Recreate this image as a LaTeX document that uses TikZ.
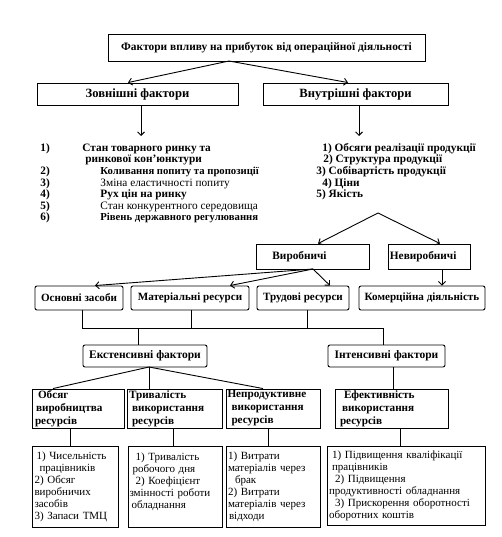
\documentclass[tikz,border=0pt]{standalone}
\usepackage{fontspec}
\setmainfont{Liberation Serif}
\usetikzlibrary{arrows.meta}
\begin{document}
\begin{tikzpicture}[x=1pt,y=-1pt,
  line width=0.9pt,
  arr/.style={-{Straight Barb[length=3.5pt,width=7pt]}},
  sqbox/.style={draw, rectangle, inner sep=0pt, font=\fontsize{12.6}{14}\selectfont\bfseries},
  rbox/.style={draw, rectangle, rounded corners=2pt, inner sep=0pt, font=\fontsize{11.1}{13}\selectfont\bfseries},
  midbox/.style={draw, rectangle, inner xsep=4pt, inner ysep=0pt, align=left, font=\fontsize{11.2}{13}\selectfont\bfseries},
  lowbox/.style={draw, rectangle, inner xsep=3pt, inner ysep=0pt, align=left, font=\fontsize{11}{12}\selectfont},
  lst/.style={anchor=base west, inner sep=0pt, font=\fontsize{11.3}{12}\selectfont\bfseries},
  lsts/.style={anchor=base west, inner sep=0pt, font=\fontsize{10.7}{12}\selectfont\bfseries},
  lstn/.style={anchor=base west, inner sep=0pt, font=\fontsize{11.3}{12}\selectfont}
]
\useasboundingbox[fill=white] (0,0) rectangle (501,537);

% level 1
\node[sqbox, minimum width=317pt, minimum height=27pt, font=\fontsize{11.4}{13}\selectfont\bfseries] (top) at (266.5,47.5) {Фактори впливу на прибуток від операційної діяльності};
\node[sqbox, minimum width=201pt, minimum height=22pt] (zovn) at (137.5,94) {Зовнішні фактори};
\node[sqbox, minimum width=185pt, minimum height=22pt] (vnutr) at (355.5,94) {Внутрішні фактори};
\coordinate (ta) at (229,61);
\draw[arr] (ta) -- ([xshift=-9.5pt]zovn.north);
\draw[arr] (ta) -- ([xshift=-7.5pt]vnutr.north);
\coordinate (zd) at (141,136);
\coordinate (vd) at (359,136);
\draw[arr] ([xshift=3.5pt]zovn.south) -- (zd);
\draw[arr] ([xshift=3.5pt]vnutr.south) -- (vd);

% left list
\node[lst] (n1) at (40,151.5) {1)};
\node[lst] (t1) at (82,151.5) {Стан товарного ринку та};
\node[lst] (t1b) at (85,163) {ринкової кон'юнктури};
\node[lst] (n2) at (40,174.5) {2)};
\node[lsts] (t2) at (100,174.5) {Коливання попиту та пропозиції};
\node[lst] (n3) at (40,186) {3)};
\node[lstn] (t3) at (100,186) {Зміна еластичності попиту};
\node[lst] (n4) at (40,197.5) {4)};
\node[lst] (t4) at (100,197.5) {Рух цін на ринку};
\node[lst] (n5) at (40,209) {5)};
\node[lstn] (t5) at (100,209) {Стан конкурентного середовища};
\node[lst] (n6) at (40,220.5) {6)};
\node[lsts] (t6) at (100,220.5) {Рівень державного регулювання};

% right list
\node[lst] (r1) at (322,151.5) {1) Обсяги реалізації продукції};
\node[lst] (r2) at (323,163) {2) Структура продукції};
\node[lst] (r3) at (316,174.5) {3) Собівартість продукції};
\node[lst] (r4) at (322,186) {4) Ціни};
\node[lst] (r5) at (316,197.5) {5) Якість};

% level 2
\coordinate (ap) at (378,213);
\node[sqbox, minimum width=113pt, minimum height=25pt] (vyrob) at (312.5,256.5) {};
\node[lst, anchor=west] (vyrobt) at (272,256.5) {Виробничі};
\node[sqbox, minimum width=82pt, minimum height=25pt] (nevyrob) at (429,256.5) {};
\node[lst, anchor=west] (nevyrobt) at (389.5,256.5) {Невиробничі};
\draw[arr] (ap) -- ([xshift=5.5pt]vyrob.north);
\draw[arr] (ap) -- ([xshift=11pt]nevyrob.north);

% level 3
\node[rbox, minimum width=88pt, minimum height=24pt] (osn) at (79,298) {Основні засоби};
\node[rbox, minimum width=118pt, minimum height=24pt] (mat) at (190,298) {Матеріальні ресурси};
\node[rbox, minimum width=92pt, minimum height=24pt] (trud) at (303,298) {Трудові ресурси};
\node[rbox, minimum width=126pt, minimum height=24pt] (kom) at (422,298) {Комерційна діяльність};
\coordinate (vs) at (313,269);
\draw[arr] (vs) -- ([xshift=16pt]osn.north);
\draw[arr] (vs) -- ([xshift=40pt]mat.north);
\draw[arr] (vs) -- ([xshift=27pt]trud.north);
\draw[arr] ([xshift=13pt]nevyrob.south) -- ([xshift=20pt]kom.north);

% level 4
\node[rbox, minimum width=124pt, minimum height=22pt, font=\fontsize{11.5}{13}\selectfont\bfseries] (ext) at (145,356) {Екстенсивні фактори};
\node[rbox, minimum width=117pt, minimum height=22pt, font=\fontsize{11.5}{13}\selectfont\bfseries] (intens) at (386.5,356) {Інтенсивні фактори};
\coordinate (hl) at (82,328);
\coordinate (hr) at (383,328);
\draw ([xshift=3pt]osn.south) -- (hl) -- (hr) -- ([xshift=-3.5pt]intens.north);
\draw ([xshift=1pt]mat.south) -- ([xshift=1pt]mat.south |- hl);
\draw ([xshift=4pt]trud.south) -- ([xshift=4pt]trud.south |- hl);
\draw ([xshift=-7pt]ext.north) -- ([xshift=-7pt]ext.north |- hl);

% level 5
\node[midbox, minimum width=92pt, minimum height=39pt, text width=86pt, inner xsep=3pt] (obs) at (78,408.5) {\hspace{3pt}Обсяг\\\hspace{1pt}виробництва\\ресурсів};
\node[midbox, minimum width=95pt, minimum height=39pt, text width=91pt, inner xsep=2pt] (tryv) at (174.5,408.5) {Тривалість\\\hspace{3pt}використання\\\hspace{3pt}ресурсів};
\node[midbox, minimum width=94pt, minimum height=39pt, text width=91pt, inner xsep=1.5pt] (neprod) at (273,408.5) {Непродуктивне\\\hspace{4pt}використання\\\hspace{4pt}ресурсів};
\node[midbox, minimum width=113pt, minimum height=39pt, text width=103pt, inner xsep=5pt] (efekt) at (391.5,408.5) {\hspace{4pt}Ефективність\\\hspace{2pt}використання\\ресурсів};
\coordinate (ea) at (149,367);
\draw (ea) -- ([xshift=-25pt]obs.north);
\draw (ea) -- ([xshift=-25.5pt]tryv.north);
\draw (ea) -- ([xshift=-10pt]neprod.north);
\draw ([xshift=6.5pt]intens.south) -- ([xshift=1.5pt]efekt.north);

% level 6
\node[lowbox, minimum width=86pt, minimum height=81pt, text width=81pt, inner xsep=2.5pt] (b1) at (75,486.5) {\hspace{2pt}1) Чисельність\\\hspace{5pt}працівників\\2) Обсяг\\виробничих\\засобів\\3) Запаси ТМЦ};
\node[lowbox, minimum width=94pt, minimum height=81pt, text width=91pt, inner xsep=1.5pt] (b2) at (175,486.5) {\hspace{6pt}1) Тривалість\\\hspace{3pt}робочого дня\\\hspace{6pt}2) Коефіцієнт\\змінності роботи\\\hspace{2pt}обладнання\\\mbox{}};
\node[lowbox, minimum width=94pt, minimum height=81pt, text width=90pt, inner xsep=2pt] (b3) at (273,486.5) {1) Витрати\\матеріалів через\\\hspace{7pt}брак\\2) Витрати\\матеріалів через\\\hspace{1pt}відходи};
\node[lowbox, minimum width=158pt, minimum height=79pt, text width=154pt, inner xsep=2pt] (b4) at (406,485.5) {\hspace{3pt}1) Підвищення кваліфікації\\\hspace{3pt}працівників\\\hspace{6pt}2) Підвищення\\продуктивності обладнання\\\hspace{6pt}3) Прискорення оборотності\\оборотних коштів};
\draw ([xshift=-8pt]obs.south) -- ([xshift=-8pt]obs.south |- b1.north);
\draw ([xshift=-1.5pt]tryv.south) -- ([xshift=-1.5pt]tryv.south |- b2.north);
\draw ([xshift=-5pt]neprod.south) -- ([xshift=-5pt]neprod.south |- b3.north);
\draw ([xshift=8.5pt]efekt.south) -- ([xshift=8.5pt]efekt.south |- b4.north);
\end{tikzpicture}
\end{document}
